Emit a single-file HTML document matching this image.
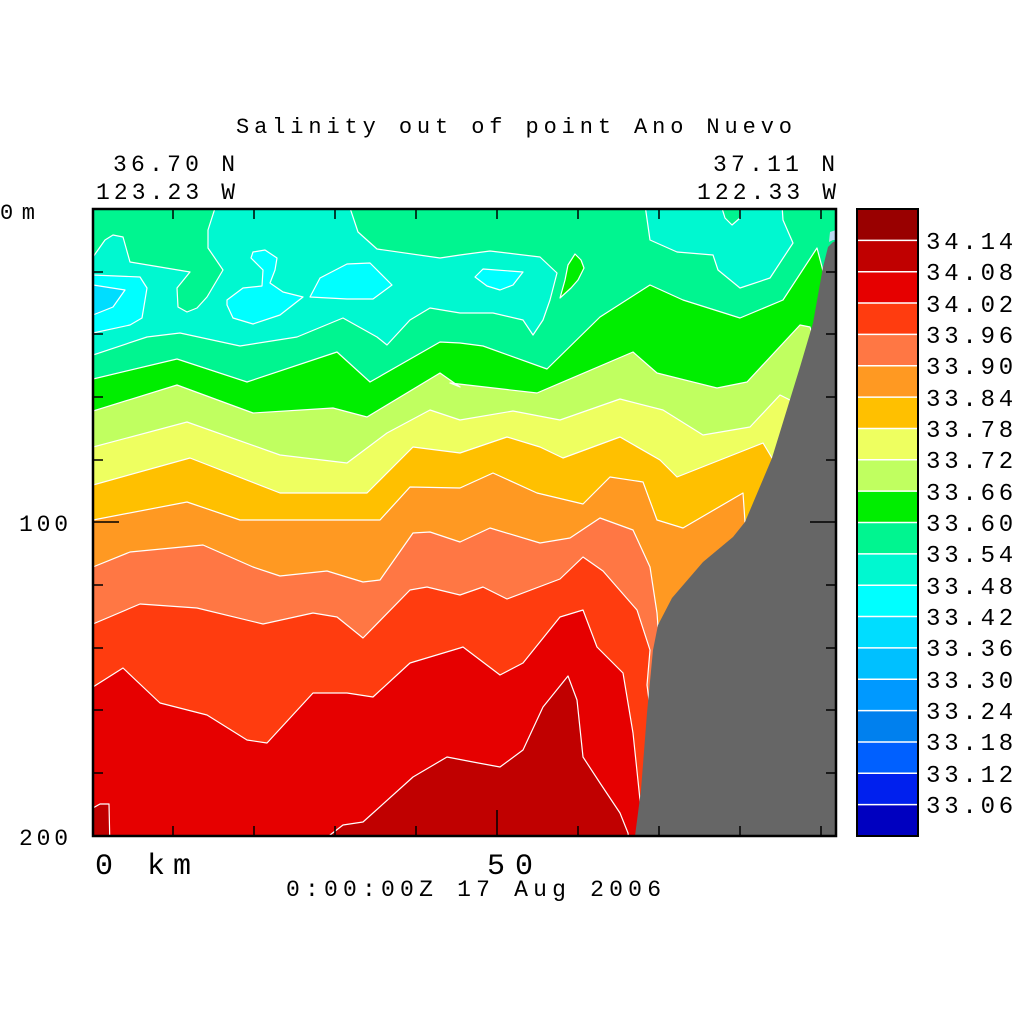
<!DOCTYPE html>
<html><head><meta charset="utf-8"><style>
html,body{margin:0;padding:0;background:#fff;}
svg{display:block;}
text{font-family:"Liberation Mono","DejaVu Sans Mono",monospace;fill:#000;}
</style></head><body>
<svg width="1024" height="1024" viewBox="0 0 1024 1024" xmlns="http://www.w3.org/2000/svg">
<defs><clipPath id="c"><rect x="93" y="209" width="743" height="627"/></clipPath></defs>
<g clip-path="url(#c)" stroke="#fff" stroke-width="1.2" stroke-linejoin="round">
<rect x="93" y="209" width="743" height="627" fill="#00f590" stroke="none"/>
<!-- teal left/top region -->
<path fill="#00f8d0" d="M80,240 L93,257 L105,240 L113,235 L123,237 L130,262 L190,272 L177,288 L178,307 L187,312 L197,308 L207,297 L223,270 L208,248 L208,230 L216,205 L349,205 L358,232 L377,249 L440,258 L460,255 L490,251 L540,257 L557,273 L550,300 L543,320 L533,335 L523,320 L493,313 L460,313 L430,308 L410,320 L387,345 L377,337 L343,318 L297,337 L240,346 L180,333 L147,337 L93,355 L80,360 Z"/>
<!-- teal right region -->
<path fill="#00f8d0" d="M645,205 L650,240 L677,252 L713,255 L718,270 L740,288 L770,278 L793,243 L783,220 L782,205 Z"/>
<path fill="#00f590" d="M721,205 L725,218 L732,225 L740,218 L740,205 Z"/>
<!-- cyan blobs -->
<path fill="#00ffff" d="M80,275 L93,275 L140,277 L147,288 L142,318 L130,325 L93,333 L80,335 Z"/>
<path fill="#00ddff" d="M80,285 L93,285 L125,290 L113,307 L93,315 L80,316 Z"/>
<path fill="#00ffff" d="M227,300 L243,288 L262,286 L263,270 L251,258 L253,252 L265,250 L277,258 L275,270 L270,283 L283,292 L303,297 L280,315 L253,324 L233,318 L227,305 Z"/>
<path fill="#00ffff" d="M310,297 L320,278 L347,264 L370,263 L392,285 L373,299 L347,299 Z"/>
<path fill="#00ffff" d="M475,277 L483,269 L523,272 L513,285 L500,290 L487,286 Z"/>
<!-- small green island -->
<path fill="#00ee00" d="M560,298 L565,280 L568,265 L575,254 L581,260 L584,268 L578,280 L571,288 Z"/>
<!-- green -->
<path fill="#00ee00" d="M80,383 L93,379 L177,359 L247,382 L337,352 L370,382 L440,342 L460,343 L483,346 L547,369 L600,317 L650,285 L683,300 L740,318 L783,300 L817,248 L822,267 L830,300 L850,300 L850,850 L80,850 Z"/>
<!-- yellowgreen -->
<path fill="#c0ff60" d="M80,415 L93,411 L177,385 L253,413 L333,408 L367,417 L440,373 L460,387 L450,383 L537,393 L633,352 L657,373 L717,388 L747,382 L800,325 L810,327 L820,360 L850,360 L850,850 L80,850 Z"/>
<!-- yellow -->
<path fill="#eeff60" d="M80,450 L93,447 L187,422 L280,455 L347,463 L387,433 L430,410 L460,420 L513,411 L560,420 L620,399 L663,410 L703,435 L750,427 L780,395 L790,400 L800,420 L850,420 L850,850 L80,850 Z"/>
<!-- orange yellow -->
<path fill="#ffc000" d="M80,488 L93,485 L190,458 L280,493 L367,493 L413,447 L460,453 L507,437 L540,447 L563,458 L620,437 L660,460 L677,477 L763,443 L772,458 L790,470 L850,470 L850,850 L80,850 Z"/>
<!-- orange -->
<path fill="#ff9922" d="M80,523 L93,520 L187,502 L240,520 L380,520 L410,487 L460,488 L493,473 L537,493 L583,504 L610,477 L643,482 L657,520 L683,528 L743,493 L745,522 L760,540 L850,540 L850,850 L80,850 Z"/>
<!-- 33.90 -->
<path fill="#ff7744" d="M80,570 L93,567 L130,552 L203,545 L253,567 L280,576 L327,571 L363,582 L380,580 L413,533 L430,532 L460,542 L490,528 L540,543 L570,538 L600,518 L633,530 L650,567 L657,613 L658,627 L670,640 L850,640 L850,850 L80,850 Z"/>
<!-- 33.96 -->
<path fill="#ff3c0f" d="M80,628 L93,624 L140,604 L197,608 L263,624 L313,613 L337,617 L363,638 L410,590 L427,587 L460,595 L483,587 L507,599 L560,579 L583,557 L603,571 L637,610 L650,650 L647,685 L649,700 L660,720 L850,720 L850,850 L80,850 Z"/>
<!-- 34.02 -->
<path fill="#e60000" d="M80,692 L93,687 L123,668 L160,703 L207,715 L247,740 L267,743 L313,693 L347,693 L373,697 L410,663 L460,648 L463,647 L500,675 L523,663 L560,617 L583,610 L597,647 L623,673 L633,733 L640,800 L641,836 L641,850 L80,850 Z"/>
<!-- 34.08 -->
<path fill="#c00000" d="M330,850 L330,835 L343,825 L363,822 L413,777 L447,757 L473,762 L500,767 L523,750 L543,707 L568,676 L577,700 L583,757 L600,783 L620,813 L628,833 L630,850 Z"/>
<path fill="#c00000" d="M80,808 L93,808 L100,804 L109,804 L110,850 L80,850 Z"/>
<!-- coast -->
<path fill="#666666" stroke="none" d="M634,850 L635,836 L641,790 L647,713 L653,650 L658,625 L672,598 L703,562 L733,537 L745,522 L772,458 L800,367 L813,323 L823,267 L828,247 L833,242 L840,240 L840,850 Z"/>
<path fill="#bcd8f0" stroke="none" d="M829,242 L833,240 L836,240 L836,230 L830,232 Z"/>
</g>
<!-- frame -->
<rect x="93" y="209" width="743" height="627" fill="none" stroke="#000" stroke-width="2.5"/>
<g stroke="#000" stroke-width="1.5">
<path d="M173,209v10M254,209v10M335,209v10M416,209v10M497,209v10M578,209v10M659,209v10M740,209v10M821,209v10"/>
<path d="M173,836v-10M254,836v-10M335,836v-10M416,836v-10M497,836v-26M578,836v-10M659,836v-10M740,836v-10M821,836v-10"/>
<path d="M93,272h10M93,334h10M93,397h10M93,460h10M93,522h26M93,585h10M93,648h10M93,710h10M93,773h10"/>
<path d="M836,272h-10M836,334h-10M836,397h-10M836,460h-10M836,522h-26M836,585h-10M836,648h-10M836,710h-10M836,773h-10"/>
</g>
<!-- colorbar -->
<g stroke="none">
<rect x="857" y="209" width="61" height="31.35" fill="#990000"/>
<rect x="857" y="240.35" width="61" height="31.35" fill="#c00000"/>
<rect x="857" y="271.7" width="61" height="31.35" fill="#e60000"/>
<rect x="857" y="303.05" width="61" height="31.35" fill="#ff3c0f"/>
<rect x="857" y="334.4" width="61" height="31.35" fill="#ff7744"/>
<rect x="857" y="365.75" width="61" height="31.35" fill="#ff9922"/>
<rect x="857" y="397.1" width="61" height="31.35" fill="#ffc000"/>
<rect x="857" y="428.45" width="61" height="31.35" fill="#eeff60"/>
<rect x="857" y="459.8" width="61" height="31.35" fill="#c0ff60"/>
<rect x="857" y="491.15" width="61" height="31.35" fill="#00ee00"/>
<rect x="857" y="522.5" width="61" height="31.35" fill="#00f590"/>
<rect x="857" y="553.85" width="61" height="31.35" fill="#00f8d0"/>
<rect x="857" y="585.2" width="61" height="31.35" fill="#00ffff"/>
<rect x="857" y="616.55" width="61" height="31.35" fill="#00ddff"/>
<rect x="857" y="647.9" width="61" height="31.35" fill="#00c0ff"/>
<rect x="857" y="679.25" width="61" height="31.35" fill="#0099ff"/>
<rect x="857" y="710.6" width="61" height="31.35" fill="#0080ee"/>
<rect x="857" y="741.95" width="61" height="31.35" fill="#0060ff"/>
<rect x="857" y="773.3" width="61" height="31.35" fill="#0020ee"/>
<rect x="857" y="804.65" width="61" height="31.35" fill="#0000c0"/>
</g>
<g stroke="#fff" stroke-width="1.5">
<path d="M857,240.35h61M857,271.7h61M857,303.05h61M857,334.4h61M857,365.75h61M857,397.1h61M857,428.45h61M857,459.8h61M857,491.15h61M857,522.5h61M857,553.85h61M857,585.2h61M857,616.55h61M857,647.9h61M857,679.25h61M857,710.6h61M857,741.95h61M857,773.3h61M857,804.65h61"/>
</g>
<rect x="857" y="209" width="61" height="627" fill="none" stroke="#000" stroke-width="2"/>
<g font-size="24" letter-spacing="3.8" textLength="91">
<text x="926" y="249">34.14</text>
<text x="926" y="280">34.08</text>
<text x="926" y="312">34.02</text>
<text x="926" y="343">33.96</text>
<text x="926" y="374">33.90</text>
<text x="926" y="406">33.84</text>
<text x="926" y="437">33.78</text>
<text x="926" y="468">33.72</text>
<text x="926" y="500">33.66</text>
<text x="926" y="531">33.60</text>
<text x="926" y="562">33.54</text>
<text x="926" y="594">33.48</text>
<text x="926" y="625">33.42</text>
<text x="926" y="656">33.36</text>
<text x="926" y="688">33.30</text>
<text x="926" y="719">33.24</text>
<text x="926" y="750">33.18</text>
<text x="926" y="782">33.12</text>
<text x="926" y="813">33.06</text>
</g>
<text x="236" y="133" font-size="22" textLength="556" lengthAdjust="spacing">Salinity out of point Ano Nuevo</text>
<text x="113" y="171" font-size="23" textLength="122" lengthAdjust="spacing">36.70 N</text>
<text x="96" y="199" font-size="23" textLength="139" lengthAdjust="spacing">123.23 W</text>
<text x="713" y="171" font-size="23" textLength="122" lengthAdjust="spacing">37.11 N</text>
<text x="697" y="199" font-size="23" textLength="139" lengthAdjust="spacing">122.33 W</text>
<text x="0" y="219" font-size="22" textLength="35" lengthAdjust="spacing">0m</text>
<text x="19" y="531" font-size="23" textLength="49" lengthAdjust="spacing">100</text>
<text x="19" y="845" font-size="23" textLength="49" lengthAdjust="spacing">200</text>
<text x="95" y="874" font-size="30" textLength="96" lengthAdjust="spacing">0 km</text>
<text x="487" y="874" font-size="30" textLength="46" lengthAdjust="spacing">50</text>
<text x="286" y="896" font-size="23" textLength="375" lengthAdjust="spacing">0:00:00Z  17 Aug 2006</text>
</svg>
</body></html>
